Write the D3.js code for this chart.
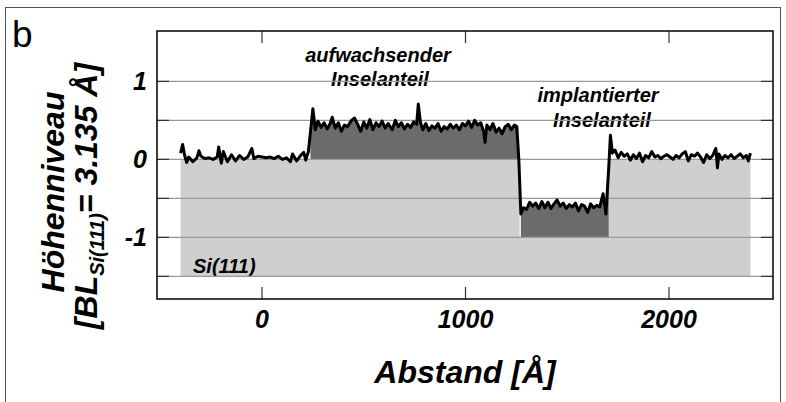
<!DOCTYPE html>
<html><head><meta charset="utf-8">
<script src="https://cdn.jsdelivr.net/npm/d3@7"></script>
<style>
body{margin:0;background:#fff;}
svg{display:block;font-family:"Liberation Sans",Arial,sans-serif;}
</style></head>
<body><svg id="c" width="786" height="402"></svg>
<script>
// ---- data ----
const distance = [-400,-390,-380,-370,-360,-340,-320,-310,-300,-280,-260,-240,-220,-213,-200,-190,-170,-150,-130,-110,-90,-70,-50,-40,-20,0,20,40,60,80,100,120,140,150,170,190,205,215,228,238,250,262,275,290,305,320,335,345,360,375,390,405,420,440,455,470,485,500,515,530,545,560,575,590,605,620,640,655,670,685,700,715,730,745,760,768,778,790,805,820,835,850,865,880,895,910,925,940,955,970,985,1000,1015,1030,1045,1060,1075,1090,1096,1105,1120,1135,1150,1165,1180,1195,1210,1225,1240,1252,1262,1272,1285,1300,1315,1330,1345,1360,1375,1390,1405,1420,1435,1450,1465,1480,1495,1510,1525,1540,1555,1570,1585,1600,1615,1630,1645,1660,1676,1690,1704,1712,1722,1735,1750,1765,1780,1795,1810,1825,1840,1855,1870,1885,1900,1915,1930,1945,1960,1975,1990,2005,2020,2035,2050,2065,2080,2095,2110,2125,2140,2155,2170,2185,2200,2215,2230,2238,2245,2260,2275,2290,2305,2320,2335,2350,2365,2380,2390,2400];
const height = [0.08,0.19,0.05,-0.04,0.03,-0.03,0.02,0.11,0.04,0.01,0.02,0.00,0.03,0.16,-0.05,0.10,-0.03,0.06,-0.02,0.05,0.00,0.03,0.14,0.01,0.04,0.03,0.02,0.03,0.01,0.04,0.00,0.02,-0.03,0.07,-0.02,0.05,0.09,-0.01,0.10,0.35,0.65,0.38,0.49,0.41,0.47,0.39,0.46,0.54,0.40,0.47,0.36,0.44,0.42,0.50,0.53,0.45,0.36,0.48,0.40,0.51,0.38,0.47,0.42,0.49,0.40,0.46,0.38,0.50,0.42,0.47,0.39,0.45,0.41,0.48,0.45,0.71,0.48,0.38,0.46,0.37,0.43,0.40,0.46,0.36,0.42,0.39,0.45,0.40,0.44,0.38,0.46,0.43,0.49,0.41,0.50,0.44,0.47,0.35,0.22,0.44,0.38,0.46,0.35,0.40,0.33,0.42,0.45,0.38,0.44,0.42,0.00,-0.70,-0.62,-0.64,-0.55,-0.60,-0.56,-0.63,-0.54,-0.62,-0.55,-0.63,-0.57,-0.52,-0.60,-0.56,-0.63,-0.58,-0.61,-0.56,-0.66,-0.58,-0.60,-0.68,-0.57,-0.62,-0.59,-0.61,-0.44,-0.70,-0.10,0.31,0.08,0.12,0.02,0.09,0.04,0.07,-0.01,0.06,0.01,0.08,-0.03,0.05,0.02,0.10,0.03,0.05,0.01,0.04,0.06,0.03,0.00,0.05,0.02,0.07,0.10,-0.02,0.06,0.04,0.08,0.03,-0.04,0.06,0.01,0.05,0.14,-0.11,0.07,0.00,0.05,0.02,0.06,0.01,0.04,0.07,0.02,0.05,-0.02,0.08];

// substrate (Si(111)) top boundary
const siX = [-400,1266,1266,1705,1705,2400];
const siTop = [0,0,-1,-1,0,0];
const siBottom = -1.5;

// island regions: [start, end, base level]
const islandStart = [238,1272];
const islandEnd = [1262,1704];
const islandBase = [0,-1];

const xTicks = [0,1000,2000];
const yTicks = [1,0,-1];
const yGrid = [1,0.5,0,-0.5,-1,-1.5];

// ---- layout ----
const svg = d3.select("#c");
const L=157, R=773, T=31, B=299;
const x = d3.scaleLinear().domain([-516,2511]).range([L,R]);
const y = d3.scaleLinear().domain([1.646,-1.79]).range([T,B]);

// outer frame
svg.append("rect").attr("x",5.5).attr("y",7.5).attr("width",775).attr("height",420)
  .attr("fill","none").attr("stroke","#555").attr("stroke-width",1);

// substrate fill
const siPts = siX.map((d,i)=>[d,siTop[i]]);
svg.append("path")
  .datum(siPts)
  .attr("d", d3.area().x(d=>x(d[0])).y0(y(siBottom)).y1(d=>y(d[1])))
  .attr("fill","#cfcfcf");

// island fills
const prof = distance.map((d,i)=>[d,height[i]]);
islandStart.forEach((s,k)=>{
  const pts = prof.filter(p=>p[0]>=s && p[0]<=islandEnd[k]);
  svg.append("path").datum(pts)
    .attr("d", d3.area().x(d=>x(d[0])).y0(y(islandBase[k])).y1(d=>y(d[1])))
    .attr("fill","#6b6b6b");
});

// annotations
const ann = svg.append("g").attr("font-weight","bold").attr("font-style","italic")
  .attr("font-size",20).attr("text-anchor","middle").attr("fill","#000");
ann.append("text").attr("x",378).attr("y",62).text("aufwachsender");
ann.append("text").attr("x",380).attr("y",86).text("Inselanteil");
ann.append("text").attr("x",598).attr("y",102).text("implantierter");
ann.append("text").attr("x",602).attr("y",127).text("Inselanteil");
svg.append("text").attr("x",193).attr("y",273).attr("font-weight","bold").attr("font-style","italic")
  .attr("font-size",20).text("Si(111)");

// gridlines
svg.append("g").selectAll("line").data(yGrid).join("line")
  .attr("x1",L).attr("x2",R).attr("y1",d=>y(d)).attr("y2",d=>y(d))
  .attr("stroke","#999").attr("stroke-width",1.2);

// tick stubs
const tk = svg.append("g").attr("stroke","#333").attr("stroke-width",1.2);
yGrid.forEach(v=>{
  tk.append("line").attr("x1",L).attr("x2",L+12).attr("y1",y(v)).attr("y2",y(v));
  tk.append("line").attr("x1",R-12).attr("x2",R).attr("y1",y(v)).attr("y2",y(v));
});
xTicks.forEach(v=>{
  tk.append("line").attr("x1",x(v)).attr("x2",x(v)).attr("y1",B).attr("y2",B-12);
  tk.append("line").attr("x1",x(v)).attr("x2",x(v)).attr("y1",T).attr("y2",T+12);
});

// profile line
svg.append("path").datum(prof)
  .attr("d", d3.line().x(d=>x(d[0])).y(d=>y(d[1])))
  .attr("fill","none").attr("stroke","#000").attr("stroke-width",3).attr("stroke-linejoin","round");

// plot frame
svg.append("rect").attr("x",L).attr("y",T).attr("width",R-L).attr("height",B-T)
  .attr("fill","none").attr("stroke","#000").attr("stroke-width",1.5);

// tick labels
const tl = svg.append("g").attr("font-weight","bold").attr("font-style","italic").attr("font-size",25).attr("fill","#000");
tl.selectAll(".xt").data(xTicks).join("text").attr("class","xt")
  .attr("x",d=>x(d)).attr("y",328).attr("text-anchor","middle").text(d=>d);
tl.selectAll(".yt").data(yTicks).join("text").attr("class","yt")
  .attr("x",147).attr("y",d=>y(d)+9).attr("text-anchor","end").text(d=>d);

// axis titles
svg.append("text").attr("x",465).attr("y",383).attr("text-anchor","middle")
  .attr("font-weight","bold").attr("font-style","italic").attr("font-size",32).text("Abstand [Å]");

const yl = svg.append("g").attr("font-weight","bold").attr("font-style","italic").attr("font-size",32);
yl.append("text").attr("transform","translate(64,192) rotate(-90)").attr("text-anchor","middle").text("Höhenniveau");
const t2 = yl.append("text").attr("transform","translate(97,196) rotate(-90)").attr("text-anchor","middle");
t2.append("tspan").text("[BL");
t2.append("tspan").attr("font-size",20).attr("dy",7).text("Si(111)");
t2.append("tspan").attr("dy",-7).text("= 3.135 Å]");

// panel letter
svg.append("text").attr("x",12).attr("y",47).attr("font-size",37).text("b");
</script></body></html>
